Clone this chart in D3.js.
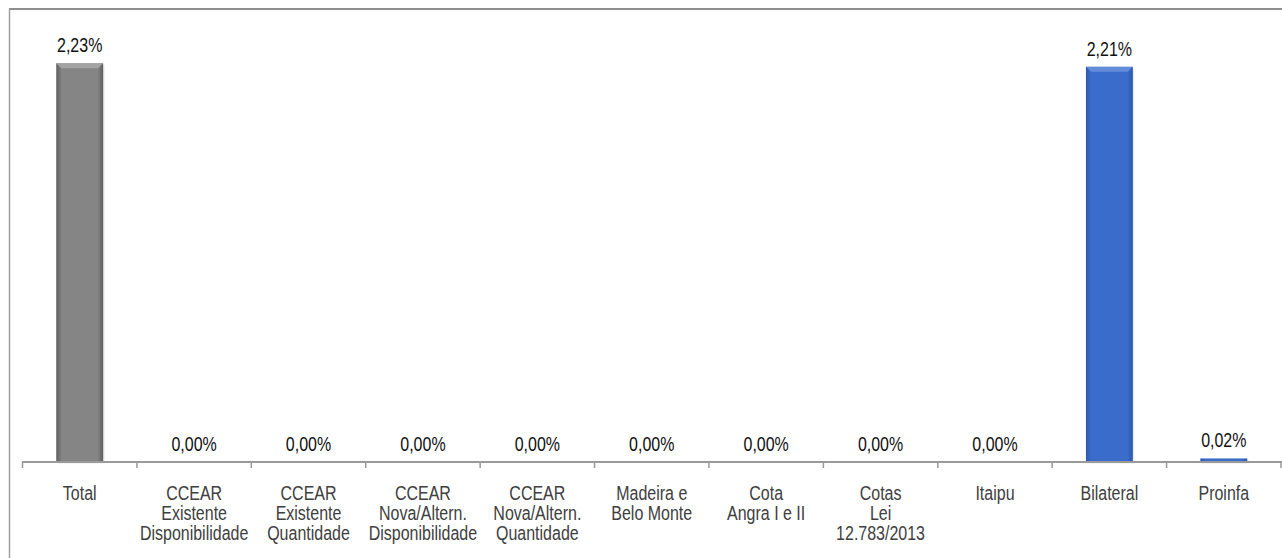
<!DOCTYPE html>
<html>
<head>
<meta charset="utf-8">
<script src="https://cdn.jsdelivr.net/npm/d3@7/dist/d3.min.js"></script>
<style>
  html, body { margin: 0; padding: 0; background: #fff; }
  svg { display: block; }
  text { font-family: "Liberation Sans", Arial, sans-serif; }
</style>
</head>
<body>
<svg id="chart" width="1282" height="558"></svg>
<script>
// Categories (multi-line labels split on "\n")
const categories = [
  "Total",
  "CCEAR\nExistente\nDisponibilidade",
  "CCEAR\nExistente\nQuantidade",
  "CCEAR\nNova/Altern.\nDisponibilidade",
  "CCEAR\nNova/Altern.\nQuantidade",
  "Madeira e\nBelo Monte",
  "Cota\nAngra I e II",
  "Cotas\nLei\n12.783/2013",
  "Itaipu",
  "Bilateral",
  "Proinfa"
];
// Values in percent
const values = [2.23, 0.00, 0.00, 0.00, 0.00, 0.00, 0.00, 0.00, 0.00, 2.21, 0.02];
// Bar colour group: the Total bar is grey, the components are blue
const colorKeys = ["total", "part", "part", "part", "part", "part", "part", "part", "part", "part", "part"];

const svg = d3.select("#chart");
const W = 1282, H = 558;
const NARROW = 0.82;   // horizontal squeeze for a condensed face
const FS = 19.5;

const x = d3.scaleBand()
  .domain(categories)
  .range([22.5, 1281])
  .paddingInner(0.59)
  .paddingOuter(0.295);

const y = d3.scaleLinear()
  .domain([0, 2.5])
  .range([462, 15]);

const fmt = v => d3.format(".2f")(v).replace(".", ",") + "%";

// Gradients for the bevelled bar look
const defs = svg.append("defs");
const palettes = {
  total: { edge: "#5e5e5e", mid: "#858585", top: "#a9a9a9" },
  part:  { edge: "#2b58ad", mid: "#3a6dcb", top: "#6c93dc" }
};
Object.entries(palettes).forEach(([k, p]) => {
  const g = defs.append("linearGradient").attr("id", "grad-" + k)
    .attr("x1", "0").attr("x2", "1").attr("y1", "0").attr("y2", "0");
  g.append("stop").attr("offset", "0%").attr("stop-color", p.edge);
  g.append("stop").attr("offset", "12%").attr("stop-color", p.mid);
  g.append("stop").attr("offset", "88%").attr("stop-color", p.mid);
  g.append("stop").attr("offset", "100%").attr("stop-color", p.edge);
});

// Outer frame (top and left edges visible)
svg.append("line").attr("x1", 9).attr("x2", W).attr("y1", 9).attr("y2", 9)
  .attr("stroke", "#8e8e8e").attr("stroke-width", 2);
svg.append("line").attr("x1", 9.5).attr("x2", 9.5).attr("y1", 9).attr("y2", H)
  .attr("stroke", "#a0a0a0").attr("stroke-width", 1.5);

const data = categories.map((c, i) => ({ c, v: values[i], k: colorKeys[i] }));

// Bars
const bars = svg.append("g").selectAll("g").data(data).join("g");
bars.append("rect")
  .attr("x", d => x(d.c) + 1.5)
  .attr("y", d => y(d.v) + 1.5)
  .attr("width", x.bandwidth())
  .attr("height", d => y(0) - y(d.v))
  .attr("fill", "#000").attr("opacity", 0.08);
bars.append("rect")
  .attr("x", d => x(d.c))
  .attr("y", d => y(d.v))
  .attr("width", x.bandwidth())
  .attr("height", d => y(0) - y(d.v))
  .attr("fill", d => `url(#grad-${d.k})`);
// Top bevel
bars.filter(d => y(0) - y(d.v) > 8).append("path")
  .attr("d", d => {
    const x0 = x(d.c), x1 = x0 + x.bandwidth(), t = y(d.v), b = 5;
    return `M${x0},${t}L${x1},${t}L${x1 - b},${t + b}L${x0 + b},${t + b}Z`;
  })
  .attr("fill", d => palettes[d.k].top).attr("opacity", 0.85);

// Value labels
svg.append("g").selectAll("text").data(data).join("text")
  .attr("transform", d => `translate(${x(d.c) + x.bandwidth() / 2},${y(d.v) - 11}) scale(${NARROW},1)`)
  .attr("text-anchor", "middle")
  .attr("font-size", FS)
  .attr("fill", "#111")
  .text(d => fmt(d.v));

// Category axis
const axis = svg.append("g");
axis.append("line")
  .attr("x1", 22).attr("x2", W).attr("y1", 462).attr("y2", 462)
  .attr("stroke", "#9a9a9a").attr("stroke-width", 2);
const step = x.step();
const tickX = d3.range(categories.length + 1).map(i => x.range()[0] + i * step);
axis.selectAll("line.tick").data(tickX).join("line")
  .attr("class", "tick")
  .attr("x1", d => d).attr("x2", d => d)
  .attr("y1", 462).attr("y2", 468)
  .attr("stroke", "#9a9a9a").attr("stroke-width", 1.5);

const labels = axis.selectAll("text").data(categories).join("text")
  .attr("transform", d => `translate(${x(d) + x.bandwidth() / 2},499.5) scale(${NARROW},1)`)
  .attr("text-anchor", "middle")
  .attr("font-size", FS)
  .attr("fill", "#404040");
labels.selectAll("tspan").data(d => d.split("\n")).join("tspan")
  .attr("x", 0)
  .attr("dy", (d, i) => i === 0 ? 0 : 20.5)
  .text(d => d);
</script>
</body>
</html>
